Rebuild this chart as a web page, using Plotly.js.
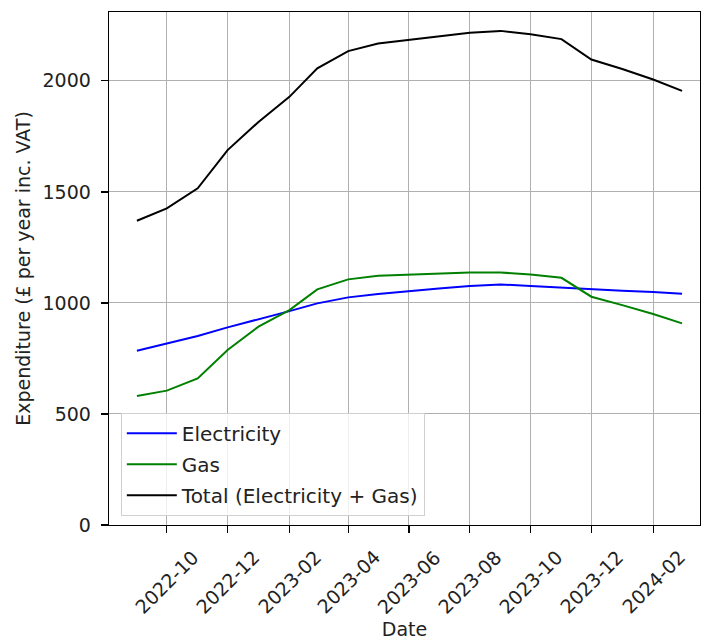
<!DOCTYPE html>
<html>
<head>
<meta charset="utf-8">
<script src="https://cdn.plot.ly/plotly-3.0.1.min.js"></script>
<style>html,body{margin:0;padding:0;background:#fff;}#chart{width:701px;height:640px;}</style>
</head>
<body>
<div id="chart"></div>
<script>
const dates = ["2022-09-01","2022-10-01","2022-11-01","2022-12-01","2023-01-01","2023-02-01","2023-03-01","2023-04-01","2023-05-01","2023-06-01","2023-07-01","2023-08-01","2023-09-01","2023-10-01","2023-11-01","2023-12-01","2024-01-01","2024-02-01","2024-03-01"];
const electricity = [785, 818, 851, 890, 926, 963, 998, 1025, 1040, 1054, 1065, 1076, 1083, 1076, 1068, 1061, 1055, 1049, 1041];
const gas = [581, 605, 660, 788, 893, 968, 1061, 1106, 1122, 1128, 1133, 1137, 1137, 1128, 1113, 1028, 990, 950, 908];
const total = [1370, 1426, 1516, 1688, 1815, 1928, 2056, 2134, 2168, 2184, 2201, 2217, 2225, 2210, 2188, 2096, 2053, 2006, 1955];
const xTickVals = ["2022-10-01","2022-12-01","2023-02-01","2023-04-01","2023-06-01","2023-08-01","2023-10-01","2023-12-01","2024-02-01"];
const xTickText = ["2022-10","2022-12","2023-02","2023-04","2023-06","2023-08","2023-10","2023-12","2024-02"];
const yTickVals = [0, 500, 1000, 1500, 2000];

const FS = 19;
const txt = {family: "DejaVu Sans", size: FS, color: "#222"};
const traces = [
  {x: dates, y: electricity, name: "Electricity", legendgroup: "e", mode: "lines", line: {color: "blue", width: 2}},
  {x: dates, y: gas, name: "Gas", legendgroup: "g", mode: "lines", line: {color: "green", width: 2}},
  {x: dates, y: total, name: "Total (Electricity + Gas)", legendgroup: "t", mode: "lines", line: {color: "black", width: 2}}
];
const annotations = xTickVals.map((d, i) => ({
  x: d, y: 0, xref: "x", yref: "paper", yshift: -57,
  text: xTickText[i], textangle: -45, showarrow: false,
  xanchor: "center", yanchor: "middle", font: txt
}));
const layout = {
  width: 701, height: 640,
  margin: {l: 109, r: 1, t: 12, b: 115},
  paper_bgcolor: "#fff", plot_bgcolor: "#fff",
  font: txt,
  showlegend: true,
  legend: {x: 0.02, y: 0.018, xanchor: "left", yanchor: "bottom",
           bgcolor: "rgba(255,255,255,0.8)", bordercolor: "#d0d0d0", borderwidth: 1,
           font: {family: "DejaVu Sans", size: 20, color: "#222"},
           traceorder: "grouped", tracegroupgap: 2, itemwidth: 50},
  annotations: annotations,
  xaxis: {
    type: "date", range: ["2022-08-04", "2024-03-19"],
    tickvals: xTickVals, showticklabels: false,
    showgrid: true, gridcolor: "#b0b0b0", gridwidth: 1,
    showline: true, linecolor: "#000", linewidth: 1.3, mirror: true,
    ticks: "outside", ticklen: 7, tickcolor: "#000", tickwidth: 1.3,
    zeroline: false,
    title: {text: "Date", font: txt, standoff: 97}
  },
  yaxis: {
    range: [0, 2310],
    tickvals: yTickVals,
    showgrid: true, gridcolor: "#b0b0b0", gridwidth: 1,
    showline: true, linecolor: "#000", linewidth: 1.3, mirror: true,
    ticks: "outside", ticklen: 7, tickcolor: "#000", tickwidth: 1.3,
    ticklabelstandoff: 6,
    zeroline: false,
    title: {text: "Expenditure (£ per year inc. VAT)", font: txt, standoff: 7}
  }
};
Plotly.newPlot("chart", traces, layout, {displayModeBar: false, staticPlot: true});
</script>
</body>
</html>
